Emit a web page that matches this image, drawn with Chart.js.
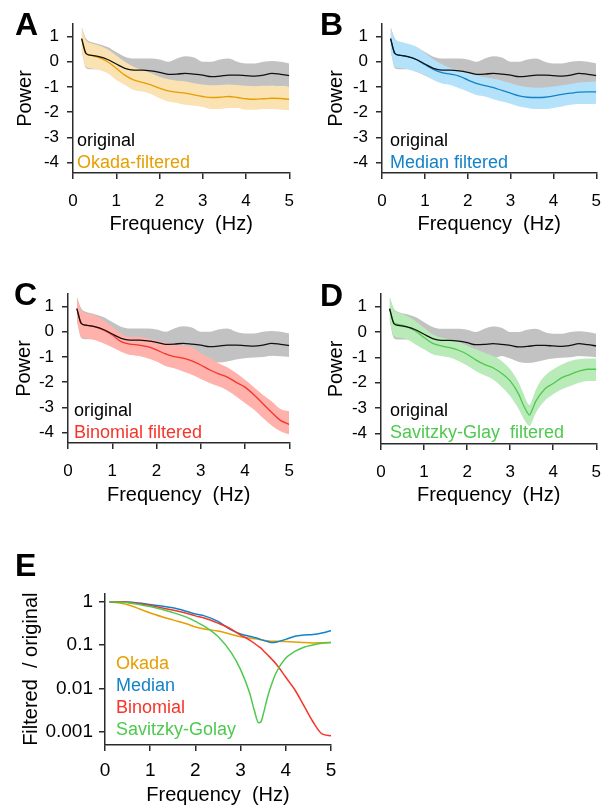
<!DOCTYPE html>
<html>
<head>
<meta charset="utf-8">
<script src="https://cdn.jsdelivr.net/npm/chart.js@4.4.1/dist/chart.umd.min.js"></script>
<style>
  body { margin: 0; background: #fff; width: 613px; height: 807px; position: relative; overflow: hidden;
         font-family: "Liberation Sans", Arial, sans-serif; }
  canvas { position: absolute; }
  .lbl { position: absolute; white-space: pre; font-size: 18px; line-height: 18px; }
  .letter { position: absolute; font-weight: bold; font-size: 32px; line-height: 32px; color: #000; }
</style>
</head>
<body>
<canvas id="cA" width="306" height="240" style="left:0;top:0"></canvas>
<canvas id="cB" width="313" height="240" style="left:300px;top:0"></canvas>
<canvas id="cC" width="306" height="240" style="left:0;top:270px"></canvas>
<canvas id="cD" width="313" height="240" style="left:300px;top:270px"></canvas>
<canvas id="cE" width="360" height="267" style="left:0;top:540px"></canvas>

<div class="letter" style="left:15px;top:8px">A</div>
<div class="letter" style="left:320px;top:8px">B</div>
<div class="letter" style="left:14px;top:278px">C</div>
<div class="letter" style="left:320px;top:279px">D</div>
<div class="letter" style="left:15px;top:549px">E</div>

<div class="lbl" style="left:77px;top:131px;color:#000">original</div>
<div class="lbl" style="left:77px;top:153px;color:#e69f00">Okada-filtered</div>
<div class="lbl" style="left:390px;top:131px;color:#000">original</div>
<div class="lbl" style="left:390px;top:153px;color:#1283c8">Median filtered</div>
<div class="lbl" style="left:74px;top:401px;color:#000">original</div>
<div class="lbl" style="left:74px;top:423px;color:#f5352b">Binomial filtered</div>
<div class="lbl" style="left:390px;top:401px;color:#000">original</div>
<div class="lbl" style="left:390px;top:423px;color:#4ec94e">Savitzky-Glay  filtered</div>
<div class="lbl" style="left:116px;top:654px;color:#e69f00">Okada</div>
<div class="lbl" style="left:116px;top:676px;color:#1283c8">Median</div>
<div class="lbl" style="left:116px;top:698px;color:#f5352b">Binomial</div>
<div class="lbl" style="left:116px;top:720px;color:#4ec94e">Savitzky-Golay</div>

<script>
// Fréquences (Hz) des spectres A-D
const FREQ = [0.2, 0.3, 0.4, 0.6, 0.8, 1.0, 1.2, 1.4, 1.6, 1.8, 2.0, 2.2, 2.4, 2.6, 2.8, 3.0, 3.2, 3.4, 3.6, 3.8, 4.0, 4.2, 4.4, 4.6, 4.8, 5.0];
const FREQ_SG = [0.2, 0.3, 0.4, 0.6, 0.8, 1.0, 1.2, 1.4, 1.6, 1.8, 2.0, 2.2, 2.4, 2.6, 2.8, 3.0, 3.2, 3.3, 3.4, 3.45, 3.5, 3.6, 3.8, 4.0, 4.2, 4.4, 4.6, 4.8, 5.0];

// Signal original : moyenne et bande
const ORIG_MEAN = [0.92, 0.33, 0.26, 0.2, 0.09, -0.09, -0.26, -0.33, -0.33, -0.36, -0.42, -0.5, -0.49, -0.46, -0.49, -0.53, -0.59, -0.57, -0.53, -0.53, -0.55, -0.57, -0.53, -0.46, -0.5, -0.55];
const ORIG_HIGH = [1.38, 0.92, 0.79, 0.7, 0.59, 0.39, 0.2, 0.13, 0.13, 0.13, 0.09, 0, 0.13, 0.22, 0.17, 0, 0, 0.09, 0.13, 0, -0.07, -0.07, 0, 0.03, 0, -0.07];
const ORIG_LOW = [0.45, -0.25, -0.3, -0.3, -0.4, -0.55, -0.7, -0.8, -0.8, -0.82, -0.9, -1.0, -1.05, -1.05, -0.95, -1.05, -1.18, -1.22, -1.18, -1.1, -1.05, -1.02, -1.0, -0.95, -0.97, -1.0];

// Okada
const OKADA_MEAN = [0.92, 0.33, 0.26, 0.16, 0, -0.26, -0.53, -0.72, -0.82, -0.92, -1.05, -1.16, -1.21, -1.25, -1.32, -1.38, -1.42, -1.41, -1.38, -1.42, -1.47, -1.49, -1.47, -1.45, -1.46, -1.49];
const OKADA_HIGH = [1.38, 0.85, 0.75, 0.65, 0.5, 0.25, 0.0, -0.2, -0.33, -0.45, -0.6, -0.7, -0.75, -0.78, -0.85, -0.9, -0.93, -0.92, -0.9, -0.92, -0.95, -0.97, -0.95, -0.95, -0.97, -1.0];
const OKADA_LOW = [0.45, -0.2, -0.26, -0.33, -0.46, -0.72, -0.92, -1.12, -1.18, -1.28, -1.45, -1.58, -1.64, -1.71, -1.75, -1.8, -1.88, -1.88, -1.84, -1.84, -1.91, -1.91, -1.88, -1.88, -1.91, -1.93];

// Médiane
const MEDIAN_MEAN = [0.92, 0.33, 0.26, 0.2, 0.09, -0.11, -0.3, -0.43, -0.49, -0.57, -0.72, -0.86, -0.95, -1.03, -1.14, -1.25, -1.36, -1.41, -1.42, -1.41, -1.36, -1.3, -1.25, -1.21, -1.2, -1.2];
const MEDIAN_HIGH = [1.38, 0.88, 0.8, 0.72, 0.6, 0.35, 0.1, -0.1, -0.25, -0.35, -0.45, -0.55, -0.62, -0.68, -0.75, -0.85, -0.95, -1.0, -1.03, -1.02, -0.98, -0.93, -0.88, -0.82, -0.8, -0.78];
const MEDIAN_LOW = [0.45, -0.2, -0.25, -0.3, -0.4, -0.53, -0.72, -0.86, -0.92, -1.05, -1.18, -1.32, -1.38, -1.49, -1.58, -1.67, -1.78, -1.84, -1.88, -1.88, -1.84, -1.78, -1.71, -1.68, -1.68, -1.67];

// Binomial
const BINOMIAL_MEAN = [0.92, 0.33, 0.26, 0.2, 0.07, -0.13, -0.39, -0.49, -0.53, -0.59, -0.72, -0.88, -0.99, -1.05, -1.16, -1.32, -1.51, -1.67, -1.8, -2.01, -2.2, -2.5, -2.85, -3.2, -3.52, -3.68];
const BINOMIAL_HIGH = [1.38, 0.85, 0.75, 0.66, 0.46, 0.2, -0.07, -0.2, -0.2, -0.26, -0.36, -0.43, -0.53, -0.55, -0.62, -0.86, -1.03, -1.25, -1.41, -1.64, -1.91, -2.2, -2.5, -2.76, -3.07, -3.16];
const BINOMIAL_LOW = [0.45, -0.2, -0.26, -0.33, -0.46, -0.62, -0.79, -0.92, -0.96, -1.05, -1.18, -1.36, -1.45, -1.58, -1.71, -1.88, -2.04, -2.17, -2.33, -2.57, -2.83, -3.09, -3.42, -3.72, -3.95, -4.08];

// Savitzky-Golay
const SG_MEAN = [0.93, 0.37, 0.3, 0.21, 0.04, -0.22, -0.45, -0.55, -0.62, -0.72, -0.88, -1.1, -1.28, -1.41, -1.63, -1.93, -2.46, -2.86, -3.18, -3.28, -3.12, -2.72, -2.26, -2.03, -1.8, -1.67, -1.54, -1.47, -1.47];
const SG_HIGH = [1.39, 0.87, 0.77, 0.63, 0.43, 0.17, -0.09, -0.22, -0.29, -0.39, -0.53, -0.68, -0.82, -0.95, -1.14, -1.47, -2.0, -2.39, -2.79, -2.88, -2.72, -2.26, -1.74, -1.47, -1.28, -1.14, -1.08, -1.05, -1.05];
const SG_LOW = [0.45, -0.16, -0.22, -0.29, -0.49, -0.68, -0.88, -0.95, -1.01, -1.14, -1.32, -1.54, -1.71, -1.87, -2.16, -2.53, -3.05, -3.38, -3.64, -3.71, -3.58, -3.18, -2.72, -2.46, -2.26, -2.13, -2.0, -1.93, -1.93];

// Panneau E : rapport filtré / original
const FREQ_E = [0.1, 0.5, 1.0, 1.5, 1.8, 2.0, 2.2, 2.5, 2.8, 3.0, 3.2, 3.3, 3.4, 3.45, 3.5, 3.6, 3.7, 3.8, 4.0, 4.2, 4.4, 4.6, 4.8, 5.0];
const OKADA_RATIO = [1.0, 0.85, 0.55, 0.38, 0.31, 0.26, 0.235, 0.21, 0.175, 0.155, 0.145, 0.14, 0.135, 0.132, 0.13, 0.125, 0.122, 0.122, 0.12, 0.118, 0.114, 0.112, 0.113, 0.114];
const MEDIAN_RATIO = [1.0, 0.98, 0.86, 0.72, 0.6, 0.52, 0.47, 0.35, 0.22, 0.18, 0.16, 0.15, 0.14, 0.133, 0.128, 0.12, 0.114, 0.118, 0.135, 0.16, 0.17, 0.175, 0.19, 0.215];
const BINOMIAL_RATIO = [1.0, 0.97, 0.82, 0.64, 0.54, 0.47, 0.42, 0.32, 0.23, 0.17, 0.13, 0.11, 0.092, 0.085, 0.075, 0.059, 0.046, 0.035, 0.018, 0.0093, 0.004, 0.0017, 0.00089, 0.00081];
const SG_RATIO = [1.0, 0.95, 0.77, 0.56, 0.44, 0.35, 0.27, 0.157, 0.065, 0.027, 0.0078, 0.0032, 0.0016, 0.0017, 0.0025, 0.0065, 0.0137, 0.0245, 0.05, 0.071, 0.089, 0.1, 0.11, 0.115];

// Graduations
const X_TICKS = [0, 1, 2, 3, 4, 5];
const POWER_TICKS = [-4, -3, -2, -1, 0, 1];
const RATIO_TICKS = [0.001, 0.01, 0.1, 1];

// Styles
const FONT = '"Liberation Sans", Arial, sans-serif';
const AXIS = '#2b2b2b';
const GRAY_BAND = '#c2c2c2';
const COLORS = {
  okada: { line: '#e69f00', band: '#fbe2b3' },
  median: { line: '#1283c8', band: '#b4e2fa' },
  binomial: { line: '#f5352b', band: '#ffb1ab' },
  sg: { line: '#4ec94e', band: '#b9ebb9' }
};

const toPoints = (xs, ys) => xs.map((x, i) => ({ x, y: ys[i] }));

function axisBase(tickSize, tickPad) {
  return {
    grid: { drawOnChartArea: false, drawTicks: true, tickLength: 6, color: AXIS, lineWidth: 1.5 },
    border: { color: AXIS, width: 1.5 },
    ticks: { color: '#000', font: { size: tickSize, family: FONT }, padding: tickPad, autoSkip: false }
  };
}

function bandDatasets(freq, low, high, color, orderBase) {
  return [
    { data: toPoints(freq, low), borderColor: 'rgba(0,0,0,0)', borderWidth: 0, fill: false, order: orderBase + 1 },
    { data: toPoints(freq, high), borderColor: 'rgba(0,0,0,0)', borderWidth: 0, fill: '-1', backgroundColor: color, order: orderBase }
  ];
}

function powerChart(id, key, freq, mean, high, low, lay) {
  const c = COLORS[key];
  const datasets = [
    ...bandDatasets(FREQ, ORIG_LOW, ORIG_HIGH, GRAY_BAND, 5),
    ...bandDatasets(freq, low, high, c.band, 3),
    { data: toPoints(freq, mean), borderColor: c.line, borderWidth: 1.3, fill: false, order: 2 },
    { data: toPoints(FREQ, ORIG_MEAN), borderColor: '#111', borderWidth: 1.3, fill: false, order: 1 }
  ];
  const x = axisBase(17, 12);
  const y = axisBase(17, 8);
  return new Chart(document.getElementById(id), {
    type: 'line',
    data: { datasets },
    options: {
      responsive: false,
      animation: false,
      layout: { padding: { left: 0, top: lay.top, right: lay.right, bottom: 0 } },
      plugins: { legend: { display: false }, tooltip: { enabled: false } },
      elements: { point: { radius: 0 }, line: { cubicInterpolationMode: 'monotone' } },
      scales: {
        x: {
          ...x, type: 'linear', min: 0, max: 5,
          afterFit: (s) => { s.height = lay.xHeight; },
          afterBuildTicks: (s) => { s.ticks = X_TICKS.map(v => ({ value: v })); },
          ticks: { ...x.ticks, callback: (v) => String(v) },
          title: { display: true, text: 'Frequency  (Hz)', color: '#000', font: { size: 20, family: FONT }, padding: { top: 0, bottom: lay.xTitlePad } }
        },
        y: {
          ...y, type: 'linear', min: -4.42, max: 1.5,
          afterFit: (s) => { s.width = lay.left; },
          afterBuildTicks: (s) => { s.ticks = POWER_TICKS.map(v => ({ value: v })); },
          ticks: { ...y.ticks, callback: (v) => String(v) },
          title: { display: true, text: 'Power', color: '#000', font: { size: 20, family: FONT }, padding: { top: lay.yTitlePad, bottom: 0 } }
        }
      }
    }
  });
}

powerChart('cA', 'okada', FREQ, OKADA_MEAN, OKADA_HIGH, OKADA_LOW,
  { left: 73, top: 24, right: 5.5, xHeight: 67, yTitlePad: 13, xTitlePad: 3.5 });
powerChart('cB', 'median', FREQ, MEDIAN_MEAN, MEDIAN_HIGH, MEDIAN_LOW,
  { left: 82, top: 24, right: 5.7, xHeight: 67, yTitlePad: 24, xTitlePad: 3.5 });
powerChart('cC', 'binomial', FREQ, BINOMIAL_MEAN, BINOMIAL_HIGH, BINOMIAL_LOW,
  { left: 68, top: 24, right: 12, xHeight: 67, yTitlePad: 12.5, xTitlePad: 2.5 });
powerChart('cD', 'sg', FREQ_SG, SG_MEAN, SG_HIGH, SG_LOW,
  { left: 81, top: 24, right: 5.7, xHeight: 66, yTitlePad: 24, xTitlePad: 2.5 });

// Panneau E
(function ratioChart() {
  const series = [
    [OKADA_RATIO, COLORS.okada.line, 4],
    [MEDIAN_RATIO, COLORS.median.line, 3],
    [BINOMIAL_RATIO, COLORS.binomial.line, 2],
    [SG_RATIO, COLORS.sg.line, 1]
  ];
  const x = axisBase(19, 8);
  const y = axisBase(19, 6);
  new Chart(document.getElementById('cE'), {
    type: 'line',
    data: {
      datasets: series.map(([vals, col, ord]) => ({
        data: toPoints(FREQ_E, vals), borderColor: col, borderWidth: 1.5, fill: false, order: ord
      }))
    },
    options: {
      responsive: false,
      animation: false,
      layout: { padding: { left: 0, top: 53.3, right: 29, bottom: 0 } },
      plugins: { legend: { display: false }, tooltip: { enabled: false } },
      elements: { point: { radius: 0 }, line: { cubicInterpolationMode: 'monotone' } },
      scales: {
        x: {
          ...x, type: 'linear', min: 0, max: 5,
          afterFit: (s) => { s.height = 62; },
          afterBuildTicks: (s) => { s.ticks = X_TICKS.map(v => ({ value: v })); },
          ticks: { ...x.ticks, callback: (v) => String(v) },
          title: { display: true, text: 'Frequency  (Hz)', color: '#000', font: { size: 20, family: FONT }, padding: { top: 0, bottom: 0 } }
        },
        y: {
          ...y, type: 'logarithmic', min: 0.000494, max: 1.56,
          afterFit: (s) => { s.width = 105; },
          afterBuildTicks: (s) => { s.ticks = RATIO_TICKS.map(v => ({ value: v })); },
          ticks: { ...y.ticks, callback: (v) => String(v) },
          title: { display: true, text: 'Filtered  / original', color: '#000', font: { size: 20, family: FONT }, padding: { top: 19, bottom: 0 } }
        }
      }
    }
  });
})();
</script>
</body>
</html>
